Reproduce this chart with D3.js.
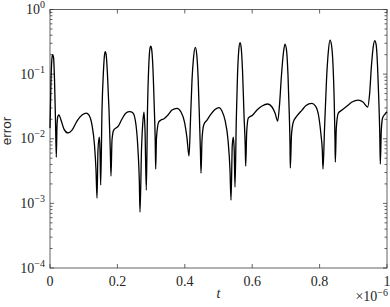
<!DOCTYPE html>
<html>
<head>
<meta charset="utf-8">
<script src="https://cdn.jsdelivr.net/npm/d3@7"></script>
<style>
  body { margin: 0; background: #fff; }
  svg { display: block; }
</style>
</head>
<body>
<script>
// time in units of 1e-6 (the axis shows x10^-6)
var tVals = [0, 0.0030, 0.0059, 0.0080, 0.0104, 0.0134, 0.0163, 0.0187, 0.0208, 0.0237,
  0.0267, 0.0326, 0.0415, 0.0534, 0.0653, 0.0801, 0.0950, 0.1077, 0.1157, 0.1246,
  0.1320, 0.1365, 0.1395, 0.1424, 0.1463, 0.1484, 0.1504, 0.1543, 0.1588, 0.1617,
  0.1641, 0.1668, 0.1706, 0.1751, 0.1789, 0.1810, 0.1840, 0.1890, 0.1958, 0.2018,
  0.2136, 0.2255, 0.2365, 0.2463, 0.2552, 0.2611, 0.2650, 0.2671, 0.2715, 0.2760,
  0.2789, 0.2819, 0.2858, 0.2893, 0.2932, 0.2967, 0.2988, 0.3012, 0.3050, 0.3092,
  0.3122, 0.3136, 0.3160, 0.3226, 0.3294, 0.3374, 0.3501, 0.3620, 0.3769, 0.3887,
  0.3991, 0.4065, 0.4125, 0.4169, 0.4214, 0.4258, 0.4312, 0.4356, 0.4398, 0.4436,
  0.4463, 0.4481, 0.4510, 0.4561, 0.4659, 0.4777, 0.4896, 0.5015, 0.5104, 0.5193,
  0.5282, 0.5341, 0.5371, 0.5409, 0.5439, 0.5466, 0.5490, 0.5528, 0.5564, 0.5602,
  0.5638, 0.5674, 0.5712, 0.5757, 0.5792, 0.5807, 0.5837, 0.5884, 0.6015, 0.6142,
  0.6291, 0.6460, 0.6588, 0.6677, 0.6757, 0.6810, 0.6869, 0.6929, 0.6973, 0.7018,
  0.7062, 0.7101, 0.7122, 0.7131, 0.7166, 0.7220, 0.7329, 0.7478, 0.7596, 0.7766,
  0.7878, 0.7967, 0.8042, 0.8080, 0.8101, 0.8145, 0.8205, 0.8258, 0.8309, 0.8353,
  0.8398, 0.8433, 0.8457, 0.8466, 0.8496, 0.8555, 0.8665, 0.8813, 0.8961, 0.9148,
  0.9288, 0.9427, 0.9481, 0.9540, 0.9591, 0.9635, 0.9680, 0.9718, 0.9757, 0.9786,
  0.9801, 0.9831, 0.9869, 0.9941, 1.0];

var errVals = [0.0146, 0.0811, 0.1775, 0.200, 0.184, 0.0811, 0.0195, 0.0052, 0.0163, 0.0225,
  0.0233, 0.0195, 0.0141, 0.0123, 0.0136, 0.0188, 0.0233, 0.0250, 0.0233, 0.0163,
  0.0080, 0.00328, 0.00121, 0.00669, 0.0106, 0.00669, 0.00192, 0.0278, 0.1157, 0.1976,
  0.222, 0.1976, 0.0968, 0.0278, 0.00669, 0.00265, 0.00955, 0.01363, 0.01464, 0.01545,
  0.0202, 0.0250, 0.0262, 0.0250, 0.0163, 0.00669, 0.00229, 0.000733, 0.00669, 0.0195,
  0.0259, 0.01363, 0.0016, 0.0278, 0.1383, 0.2535, 0.272, 0.2535, 0.1383, 0.0332,
  0.00955, 0.0034, 0.01025, 0.01813, 0.01948, 0.0202, 0.0233, 0.0278, 0.0296, 0.0259,
  0.01813, 0.01025, 0.0054, 0.01948, 0.0811, 0.1775, 0.260, 0.1976, 0.0811, 0.01948,
  0.00669, 0.00294, 0.00955, 0.0163, 0.01948, 0.0241, 0.0283, 0.0304, 0.0268, 0.01948,
  0.00955, 0.00328, 0.00112, 0.0080, 0.0106, 0.00669, 0.00179, 0.01948, 0.0968, 0.236,
  0.306, 0.2535, 0.1157, 0.0233, 0.0080, 0.00378, 0.0127, 0.0209, 0.0233, 0.0278,
  0.0321, 0.0345, 0.0310, 0.0250, 0.0188, 0.0332, 0.0968, 0.220, 0.292, 0.236,
  0.0968, 0.0233, 0.0080, 0.00352, 0.01141, 0.01813, 0.0225, 0.0278, 0.0327, 0.0353,
  0.0321, 0.0233, 0.01141, 0.00669, 0.0034, 0.01363, 0.0811, 0.220, 0.337, 0.282,
  0.1383, 0.0397, 0.00955, 0.00436, 0.01464, 0.0250, 0.0278, 0.0321, 0.0370, 0.0397,
  0.0370, 0.0310, 0.0475, 0.1383, 0.263, 0.329, 0.282, 0.1383, 0.0397, 0.01141,
  0.00406, 0.01363, 0.0209, 0.0241, 0.0262];

var xTicks = [0, 0.2, 0.4, 0.6, 0.8, 1];
var xTickLabels = ["0", "0.2", "0.4", "0.6", "0.8", "1"];
var yExps = [0, -1, -2, -3, -4];

var breedte = 390, hoogte = 307;
var marge = {links: 50, rechts: 3, boven: 9.5, beneden: 39};

var data = tVals.map(function(t, i) { return {t: t, err: errVals[i]}; });

var x = d3.scaleLinear()
  .domain([0, 1])
  .range([marge.links, breedte - marge.rechts]);

var y = d3.scaleLog()
  .domain([1e-4, 1])
  .range([hoogte - marge.beneden, marge.boven]);

var svg = d3.select("body").append("svg")
  .attr("width", breedte)
  .attr("height", hoogte);

var asKleur = "#3c3c3c";
var serif = "'Liberation Serif', 'DejaVu Serif', serif";

// kader
var x0 = x(0), x1 = x(1), y0 = y(1e-4), y1 = y(1);
svg.append("rect")
  .attr("x", x0).attr("y", y1)
  .attr("width", x1 - x0).attr("height", y0 - y1)
  .attr("fill", "none")
  .attr("stroke", asKleur)
  .attr("stroke-width", 0.8);

// x ticks (onder en boven, naar binnen)
xTicks.forEach(function(v) {
  svg.append("line").attr("x1", x(v)).attr("x2", x(v))
    .attr("y1", y0).attr("y2", y0 - 4).attr("stroke", asKleur).attr("stroke-width", 0.8);
  svg.append("line").attr("x1", x(v)).attr("x2", x(v))
    .attr("y1", y1).attr("y2", y1 + 4).attr("stroke", asKleur).attr("stroke-width", 0.8);
});

// y ticks, major en minor
for (var e = -4; e <= 0; e++) {
  for (var m = 1; m <= 9; m++) {
    if (e === 0 && m > 1) break;
    var v = m * Math.pow(10, e);
    var len = (m === 1) ? 4 : 2.5;
    svg.append("line").attr("x1", x0).attr("x2", x0 + len)
      .attr("y1", y(v)).attr("y2", y(v)).attr("stroke", asKleur).attr("stroke-width", 0.8);
    svg.append("line").attr("x1", x1).attr("x2", x1 - len)
      .attr("y1", y(v)).attr("y2", y(v)).attr("stroke", asKleur).attr("stroke-width", 0.8);
  }
}

// x tick labels
svg.selectAll(".xlab")
  .data(xTicks)
  .enter()
  .append("text")
  .attr("x", function(d) { return x(d); })
  .attr("y", 286)
  .attr("text-anchor", "middle")
  .attr("font-family", serif)
  .attr("font-size", "14px")
  .attr("fill", "#262626")
  .text(function(d, i) { return xTickLabels[i]; });

// y tick labels 10^n
yExps.forEach(function(ex) {
  var t = svg.append("text")
    .attr("x", 45)
    .attr("y", y(Math.pow(10, ex)) + 4.5)
    .attr("text-anchor", "end")
    .attr("font-family", serif)
    .attr("font-size", "14px")
    .attr("fill", "#262626");
  t.append("tspan").text("10");
  t.append("tspan")
    .attr("dy", -6)
    .attr("font-size", "10px")
    .text(ex === 0 ? "0" : "\u2212" + (-ex));
});

// x as titel
svg.append("text")
  .attr("x", (x0 + x1) / 2)
  .attr("y", 298)
  .attr("text-anchor", "middle")
  .attr("font-family", serif)
  .attr("font-style", "italic")
  .attr("font-size", "14px")
  .attr("fill", "#262626")
  .text("t");

// schaalfactor
var sf = svg.append("text")
  .attr("x", 388)
  .attr("y", 301)
  .attr("text-anchor", "end")
  .attr("font-family", serif)
  .attr("font-size", "14px")
  .attr("fill", "#262626");
sf.append("tspan").text("\u00d710");
sf.append("tspan").attr("dy", -5).attr("font-size", "10px").text("\u22126");

// y as titel
svg.append("text")
  .attr("transform", "translate(11," + 131 + ") rotate(-90)")
  .attr("text-anchor", "middle")
  .attr("font-family", "'Liberation Sans', Arial, sans-serif")
  .attr("font-size", "13.5px")
  .attr("fill", "#262626")
  .text("error");

// de lijn
var lijn = d3.line()
  .x(function(d) { return x(d.t); })
  .y(function(d) { return y(d.err); })
  .curve(d3.curveMonotoneX);

svg.append("path")
  .datum(data)
  .attr("d", lijn)
  .attr("fill", "none")
  .attr("stroke", "#000")
  .attr("stroke-width", 1.3)
  .attr("stroke-linejoin", "round");
</script>
</body>
</html>
